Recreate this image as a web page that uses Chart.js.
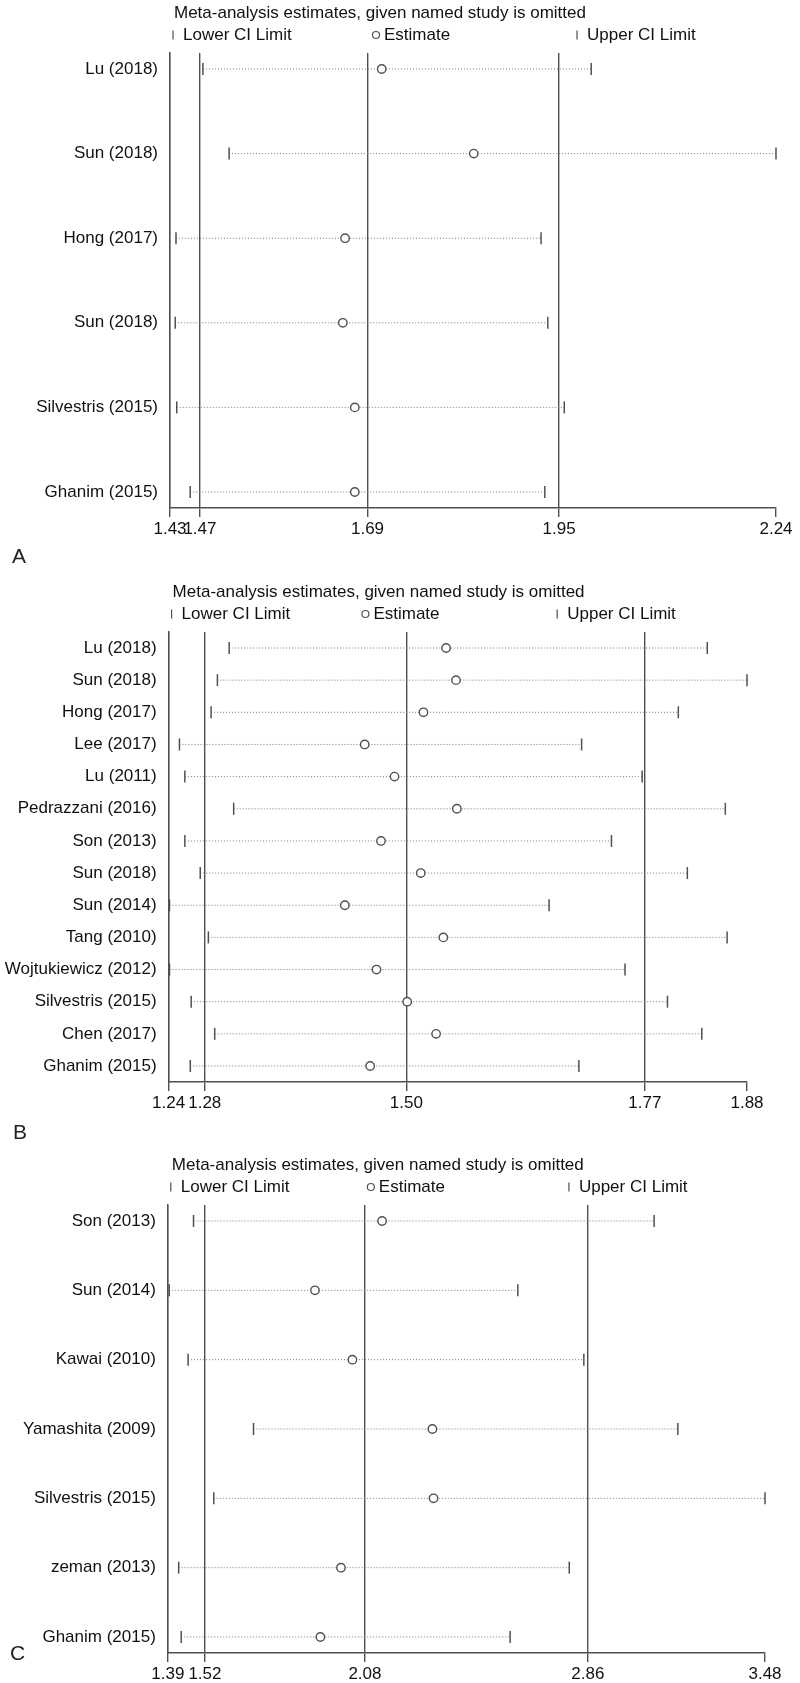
<!DOCTYPE html>
<html>
<head>
<meta charset="utf-8">
<title>Sensitivity analysis - study omitted</title>
<script src="https://cdn.jsdelivr.net/npm/chart.js@4.4.1/dist/chart.umd.min.js"></script>
<style>
  body { margin: 0; background: #fff; }
  #page { position: relative; width: 800px; height: 1683px; overflow: hidden; font-family: "Liberation Sans", Arial, sans-serif; }
  canvas { position: absolute; left: 0; }
  .panel-letter { position: absolute; font-size: 21px; line-height: 21px; color: #222; }
</style>
</head>
<body>
<div id="page">
  <canvas id="chartA" width="800" height="540" style="top:0px"></canvas>
  <canvas id="chartB" width="800" height="560" style="top:560px"></canvas>
  <canvas id="chartC" width="800" height="543" style="top:1140px"></canvas>
  <div class="panel-letter" style="left:12px;top:545px">A</div>
  <div class="panel-letter" style="left:13px;top:1121px">B</div>
  <div class="panel-letter" style="left:10px;top:1642px">C</div>
</div>
<script>
const titleText = 'Meta-analysis estimates, given named study is omitted';
const legendLabels = ['Lower CI Limit', 'Estimate', 'Upper CI Limit'];

// panel A
const studiesA = ['Lu (2018)', 'Sun (2018)', 'Hong (2017)', 'Sun (2018)', 'Silvestris (2015)', 'Ghanim (2015)'];
const lowerA = [1.474, 1.509, 1.438, 1.437, 1.439, 1.457];
const estimateA = [1.713, 1.836, 1.664, 1.661, 1.677, 1.677];
const upperA = [1.993, 2.240, 1.926, 1.935, 1.957, 1.931];
const ticksA = [1.43, 1.47, 1.694, 1.95, 2.24];

// panel B
const studiesB = ['Lu (2018)', 'Sun (2018)', 'Hong (2017)', 'Lee (2017)', 'Lu (2011)', 'Pedrazzani (2016)', 'Son (2013)',
  'Sun (2018)', 'Sun (2014)', 'Tang (2010)', 'Wojtukiewicz (2012)', 'Silvestris (2015)', 'Chen (2017)', 'Ghanim (2015)'];
const lowerB = [1.307, 1.294, 1.287, 1.252, 1.258, 1.312, 1.258, 1.275, 1.241, 1.284, 1.241, 1.265, 1.291, 1.264];
const estimateB = [1.547, 1.558, 1.522, 1.457, 1.490, 1.559, 1.475, 1.519, 1.435, 1.544, 1.470, 1.504, 1.536, 1.463];
const upperB = [1.836, 1.880, 1.804, 1.697, 1.764, 1.856, 1.730, 1.814, 1.661, 1.858, 1.745, 1.792, 1.830, 1.694];
const ticksB = [1.24, 1.28, 1.503, 1.767, 1.88];

// panel C
const studiesC = ['Son (2013)', 'Sun (2014)', 'Kawai (2010)', 'Yamashita (2009)', 'Silvestris (2015)', 'zeman (2013)', 'Ghanim (2015)'];
const lowerC = [1.480, 1.395, 1.461, 1.690, 1.551, 1.428, 1.437];
const estimateC = [2.140, 1.905, 2.036, 2.316, 2.320, 1.996, 1.924];
const upperC = [3.092, 2.615, 2.846, 3.175, 3.480, 2.795, 2.588];
const ticksC = [1.39, 1.52, 2.08, 2.86, 3.48];

const FONT = '"Liberation Sans", Arial, Helvetica, sans-serif';
const TEXT = '#111';
const LINE = '#505050';
const DOTS = '#7a7a7a';
const X_AXIS_H = 30;

// title and the three-column key above each panel
const headerPlugin = {
    id: 'header',
    afterDraw(chart) {
        const { ctx, chartArea } = chart;
        const left = chartArea.left;
        const colW = (chartArea.right - chartArea.left) / 3;
        const top = chartArea.top;
        const ly = top - 18;
        ctx.save();
        ctx.font = `17px ${FONT}`;
        ctx.fillStyle = TEXT;
        ctx.textBaseline = 'middle';
        ctx.fillText(titleText, left + 4, top - 40);

        ctx.strokeStyle = LINE;
        ctx.lineWidth = 1.2;
        [0, 2].forEach((k) => {
            const x = left + k * colW + 3;
            ctx.beginPath();
            ctx.moveTo(x, ly - 4.5);
            ctx.lineTo(x, ly + 4.5);
            ctx.stroke();
            ctx.fillText(legendLabels[k], x + 10, ly);
        });
        const cx = left + colW + 4;
        ctx.beginPath();
        ctx.arc(cx, ly, 3.5, 0, Math.PI * 2);
        ctx.stroke();
        ctx.fillText(legendLabels[1], cx + 8, ly);
        ctx.restore();
    },
};

function makePanel(id, box, studies, lower, estimate, upper, ticks) {
    const canvas = document.getElementById(id);
    const n = studies.length;
    const rowPad = 16;
    const pad = rowPad * (n - 1) / (box.bottom - box.top - 2 * rowPad);
    const xMax = ticks[ticks.length - 1];

    const datasets = [
        {
            label: legendLabels[1],
            data: estimate.map((v, i) => ({ x: v, y: i })),
            pointStyle: 'circle',
            pointRadius: 4.2,
            pointBackgroundColor: '#fff',
            pointBorderColor: LINE,
            pointBorderWidth: 1.4,
            clip: false,
        },
        {
            label: legendLabels[0],
            data: lower.map((v, i) => ({ x: v, y: i })),
            pointStyle: 'line',
            pointRotation: 90,
            pointRadius: 6,
            pointBorderColor: LINE,
            pointBorderWidth: 1.5,
            clip: false,
        },
        {
            label: legendLabels[2],
            data: upper.map((v, i) => ({ x: v, y: i })),
            pointStyle: 'line',
            pointRotation: 90,
            pointRadius: 6,
            pointBorderColor: LINE,
            pointBorderWidth: 1.5,
            clip: false,
        },
    ];
    studies.forEach((_, i) => {
        datasets.push({
            data: [{ x: lower[i], y: i }, { x: upper[i], y: i }],
            showLine: true,
            borderColor: DOTS,
            borderWidth: 1,
            borderDash: [1, 2],
            pointRadius: 0,
            clip: false,
        });
    });

    return new Chart(canvas, {
        type: 'scatter',
        data: { datasets },
        options: {
            responsive: false,
            animation: false,
            devicePixelRatio: 1,
            events: [],
            layout: {
                padding: {
                    top: box.top - box.canvasTop,
                    right: 800 - box.right,
                    bottom: canvas.height - (box.bottom - box.canvasTop) - X_AXIS_H,
                    left: 0,
                },
            },
            plugins: { legend: { display: false }, tooltip: { enabled: false } },
            scales: {
                x: {
                    type: 'linear',
                    min: ticks[0],
                    max: xMax,
                    afterBuildTicks: (axis) => { axis.ticks = ticks.map((v) => ({ value: v })); },
                    afterFit: (axis) => { axis.height = X_AXIS_H; },
                    ticks: {
                        autoSkip: false,
                        maxRotation: 0,
                        minRotation: 0,
                        padding: 2,
                        color: TEXT,
                        font: { family: FONT, size: 17 },
                        callback: (v) => Number(v).toFixed(2),
                    },
                    grid: {
                        color: (ctx) => (ctx.tick && ctx.tick.value === xMax ? 'rgba(0,0,0,0)' : LINE),
                        tickColor: LINE,
                        tickLength: 9,
                        lineWidth: 1.4,
                    },
                    border: { display: true, color: LINE, width: 1.4 },
                },
                y: {
                    type: 'linear',
                    reverse: true,
                    min: -pad,
                    max: n - 1 + pad,
                    afterBuildTicks: (axis) => { axis.ticks = studies.map((_, i) => ({ value: i })); },
                    afterFit: (axis) => { axis.width = box.left; },
                    ticks: {
                        autoSkip: false,
                        padding: 12,
                        color: TEXT,
                        font: { family: FONT, size: 17 },
                        callback: (v) => studies[v],
                    },
                    grid: { display: false, drawTicks: false },
                    border: { display: true, color: LINE, width: 1.4 },
                },
            },
        },
        plugins: [headerPlugin],
    });
}

makePanel('chartA', { canvasTop: 0, top: 53, bottom: 508, left: 170, right: 776 }, studiesA, lowerA, estimateA, upperA, ticksA);
makePanel('chartB', { canvasTop: 560, top: 632, bottom: 1082, left: 168.6, right: 747 }, studiesB, lowerB, estimateB, upperB, ticksB);
makePanel('chartC', { canvasTop: 1140, top: 1205, bottom: 1653, left: 167.8, right: 765 }, studiesC, lowerC, estimateC, upperC, ticksC);
</script>
</body>
</html>
